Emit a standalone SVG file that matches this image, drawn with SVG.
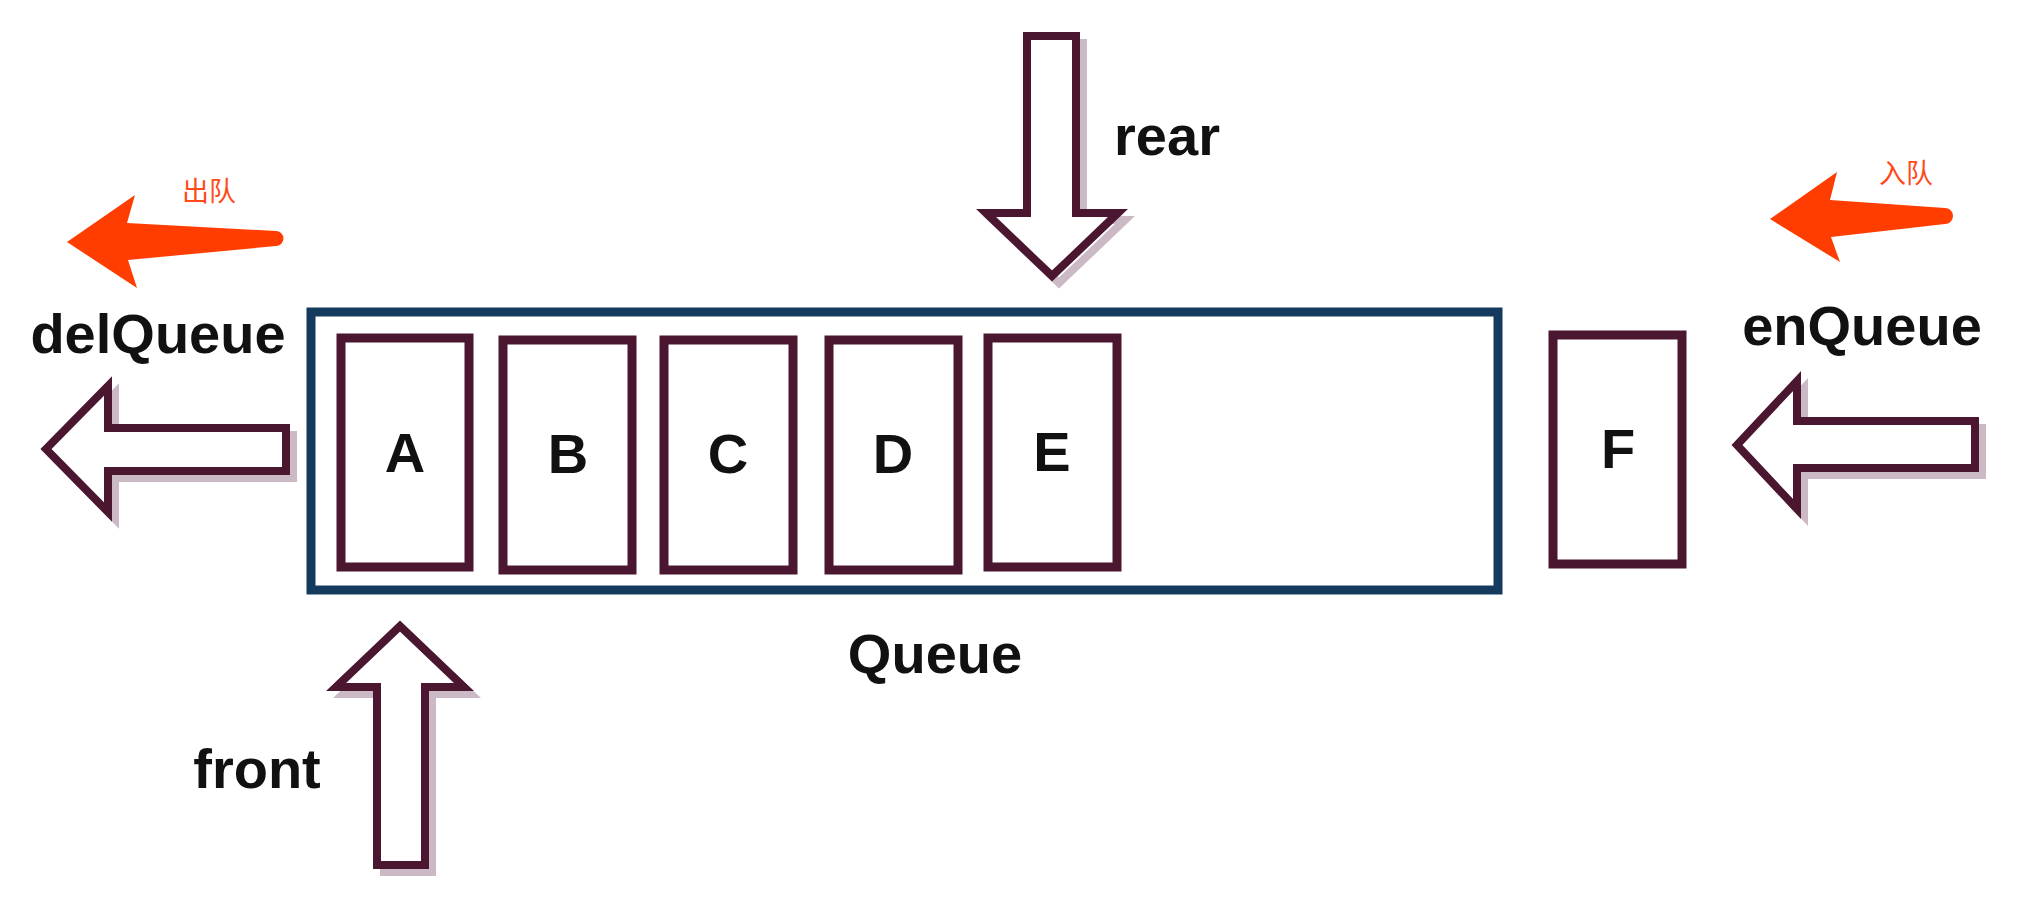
<svg xmlns="http://www.w3.org/2000/svg" width="2040" height="916" viewBox="0 0 2040 916">
<defs>
<style>
.lbl{font-family:"Liberation Sans",Arial,sans-serif;font-weight:bold;font-size:56px;fill:#111;text-anchor:middle}
.cn{font-family:"Noto Sans CJK SC","Liberation Sans",sans-serif;font-size:27px;fill:#ff4a1a;text-anchor:middle}
.cell{fill:#fff;stroke:#4a1630;stroke-width:9}
.arr{fill:#fff;stroke:#4a1630;stroke-width:8;stroke-linejoin:miter}
.shadow{fill:none;stroke:#b9a2b2;stroke-width:8;opacity:0.75}
.red{fill:#ff3d00}
</style>
</defs>
<rect width="2040" height="916" fill="#fff"/>
<g id="queue">
<rect x="311" y="312" width="1187" height="278" fill="#fff" stroke="#143a5e" stroke-width="9"/>
<text class="lbl" x="935" y="673">Queue</text>
</g>
<g id="cellA"><rect class="cell" x="341" y="338" width="128" height="229"/><text class="lbl" x="405" y="472">A</text></g>
<g id="cellB"><rect class="cell" x="503" y="340" width="129" height="230"/><text class="lbl" x="568" y="473">B</text></g>
<g id="cellC"><rect class="cell" x="664" y="340" width="129" height="230"/><text class="lbl" x="728" y="473">C</text></g>
<g id="cellD"><rect class="cell" x="829" y="340" width="129" height="230"/><text class="lbl" x="893" y="473">D</text></g>
<g id="cellE"><rect class="cell" x="988" y="338" width="129" height="229"/><text class="lbl" x="1052" y="471">E</text></g>
<g id="cellF"><rect class="cell" x="1553" y="335" width="129" height="229"/><text class="lbl" x="1618" y="468">F</text></g>
<g id="connectors">
<g id="rear-arrow">
<polygon class="shadow" transform="translate(7,7)" points="1027,36 1076,36 1076,213 1118,213 1052,276 986,213 1027,213"/>
<polygon class="arr" points="1027,36 1076,36 1076,213 1118,213 1052,276 986,213 1027,213"/>
</g>
<g id="front-arrow">
<polygon class="shadow" transform="translate(7,7)" points="377,865 425,865 425,687 464,687 400,626 336,687 377,687"/>
<polygon class="arr" points="377,865 425,865 425,687 464,687 400,626 336,687 377,687"/>
</g>
<g id="del-arrow">
<polygon class="shadow" transform="translate(7,7)" points="286,428 108,428 108,386 46,449 108,512 108,471 286,471"/>
<polygon class="arr" points="286,428 108,428 108,386 46,449 108,512 108,471 286,471"/>
</g>
<g id="en-arrow">
<polygon class="shadow" transform="translate(7,7)" points="1975,421 1797,421 1797,381 1737,445 1797,509 1797,468 1975,468"/>
<polygon class="arr" points="1975,421 1797,421 1797,381 1737,445 1797,509 1797,468 1975,468"/>
</g>
<path class="red" d="M67,242 L135,195 L127,223 L276,231 A7,7 0 0 1 276,246 L128,260 L137,288 Z"/>
<path class="red" d="M1770,219 L1837,172 L1830,200 L1945,208 A8,8 0 0 1 1945,224 L1831,237 L1840,262 Z"/>
</g>
<g id="labels">
<text class="lbl" x="158" y="353">delQueue</text>
<text class="lbl" x="1862" y="345">enQueue</text>
<text class="lbl" x="1167" y="155">rear</text>
<text class="lbl" x="257" y="788">front</text>
<text class="cn" x="209" y="201">出队</text>
<text class="cn" x="1906" y="183">入队</text>
</g>
</svg>
